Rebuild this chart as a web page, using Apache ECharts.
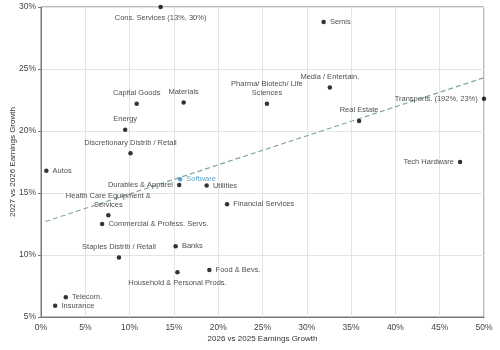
<!DOCTYPE html>
<html>
<head>
<meta charset="utf-8">
<script src="https://cdn.jsdelivr.net/npm/echarts@6/dist/echarts.min.js"></script>
<style>
    html, body { margin: 0; padding: 0; background: #fff; }
    #scatter { width: 500px; height: 350px; }
</style>
</head>
<body>
<div id="scatter"></div>
<script>
// sectors, x = 2026 vs 2025 growth, y = 2027 vs 2026 growth (%)
const sectors = [
    'Cons. Services (13%, 30%)', 'Capital Goods', 'Materials', 'Energy',
    'Discretionary Distrib / Retail', 'Autos', 'Semis', 'Media / Entertain.',
    'Pharma/ Biotech/ Life\nSciences', 'Real Estate', 'Transports. (192%, 23%)',
    'Tech Hardware', 'Software', 'Durables & Apparel', 'Utilities',
    'Financial Services', 'Health Care Equipment &\nServices',
    'Commercial & Profess. Servs.', 'Banks', 'Staples Distrib / Retail',
    'Household & Personal Prods.', 'Food & Bevs.', 'Telecom.', 'Insurance',
]
const growth26 = [
    13.5, 10.8, 16.1, 9.5,
    10.1, 0.6, 31.9, 32.6,
    25.5, 35.9, 50,
    47.3, 15.7, 15.6, 18.7,
    21.0, 7.6,
    6.9, 15.2, 8.8,
    15.4, 19.0, 2.8, 1.6,
]
const growth27 = [
    30, 22.2, 22.3, 20.1,
    18.2, 16.8, 28.8, 23.5,
    22.2, 20.8, 22.6,
    17.5, 16.1, 15.65, 15.6,
    14.1, 13.2,
    12.5, 10.7, 9.8,
    8.6, 8.8, 6.6, 5.9,
]
const trendX = [0.5, 50]
const trendY = [12.7, 24.3]

const xTicks = ['0%', '5%', '10%', '15%', '20%', '25%', '30%', '35%', '40%', '45%', '50%']

// label placement by sector
const placeLeft = ['Transports. (192%, 23%)', 'Tech Hardware', 'Durables & Apparel']
const placeTop = [
    'Capital Goods', 'Materials', 'Energy', 'Discretionary Distrib / Retail',
    'Media / Entertain.', 'Pharma/ Biotech/ Life\nSciences', 'Real Estate',
    'Health Care Equipment &\nServices', 'Staples Distrib / Retail',
]
const placeBottom = ['Cons. Services (13%, 30%)', 'Household & Personal Prods.']

const positionOf = function(name) {
    if (placeLeft.includes(name)) {
        return 'left'
    }
    if (placeTop.includes(name)) {
        return 'top'
    }
    if (placeBottom.includes(name)) {
        return 'bottom'
    }
    return 'right'
}

const buildPoints = function() {
    const points = sectors.map((name, i) => {
        const highlight = name === 'Software'
        const o = {
            name: name,
            value: [growth26[i], growth27[i]],
            itemStyle: { color: highlight ? '#3a8fc0' : '#000' },
            label: {
                show: true,
                position: positionOf(name),
                distance: 4,
                formatter: '{b}',
                color: highlight ? '#3a8fc0' : '#222',
                fontSize: 7.5,
                lineHeight: 9,
                fontFamily: 'Liberation Sans',
            },
        }
        return o
    })
    return points
}

const makeOption = function() {
    const axisText = { color: '#444', fontSize: 8.5, fontFamily: 'Liberation Sans' }
    const option = {
        animation: false,
        grid: {
            left: 41, right: 16, top: 7, bottom: 33,
            outerBoundsMode: 'none',
            show: true, borderColor: '#777', borderWidth: 1,
        },
        xAxis: {
            type: 'value',
            min: 0, max: 50, interval: 5,
            name: '2026 vs 2025 Earnings Growth',
            nameLocation: 'middle',
            nameGap: 18,
            nameMoveOverlap: false,
            nameTextStyle: { color: '#333', fontSize: 8, fontFamily: 'Liberation Sans' },
            axisLine: { show: true, lineStyle: { color: '#777' } },
            axisTick: { show: false },
            axisLabel: Object.assign({
                margin: 6,
                formatter: (v) => xTicks[Math.round(v / 5)],
            }, axisText),
            splitLine: { lineStyle: { color: '#e4e4e4' } },
        },
        yAxis: {
            type: 'value',
            min: 5, max: 30, interval: 5,
            name: '2027 vs 2026 Earnings Growth',
            nameLocation: 'middle',
            nameGap: 24,
            nameMoveOverlap: false,
            nameTextStyle: { color: '#333', fontSize: 8, fontFamily: 'Liberation Sans' },
            axisLine: { show: true, lineStyle: { color: '#777' } },
            axisTick: { show: true, length: 3, lineStyle: { color: '#777' } },
            axisLabel: Object.assign({ margin: 5, formatter: '{value}%' }, axisText),
            splitLine: { lineStyle: { color: '#e4e4e4' } },
        },
        series: [
            {
                type: 'line',
                data: trendX.map((x, i) => [x, trendY[i]]),
                symbol: 'none',
                silent: true,
                lineStyle: { color: '#7fa5a8', width: 1.2, type: [5, 3] },
                z: 1,
            },
            {
                type: 'scatter',
                symbolSize: 4.5,
                clip: false,
                data: buildPoints(),
                labelLayout: { hideOverlap: false },
                z: 3,
            },
        ],
    }
    return option
}

const __main = function() {
    const chart = echarts.init(document.getElementById('scatter'))
    chart.setOption(makeOption())
}

__main()
</script>
</body>
</html>
